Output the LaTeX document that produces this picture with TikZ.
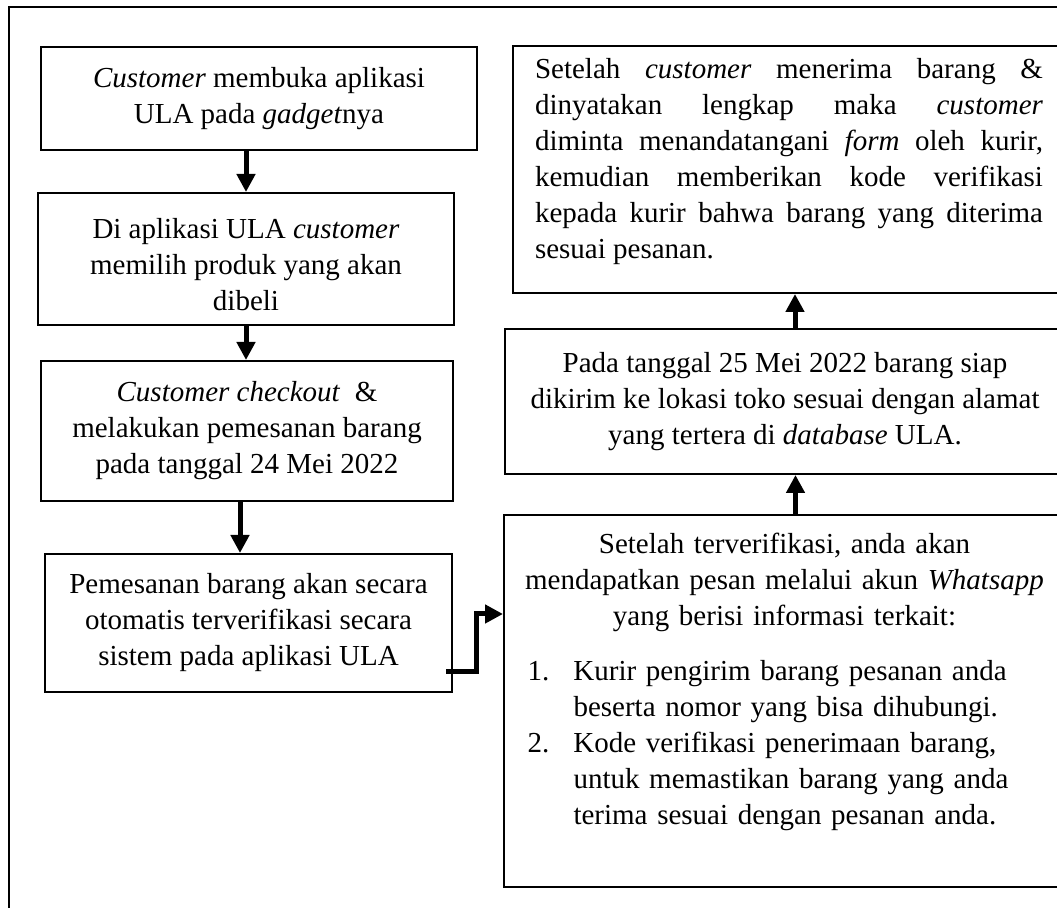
\documentclass[tikz,border=0pt]{standalone}
\usepackage{fontspec}
\setmainfont{Liberation Serif}
\usetikzlibrary{arrows.meta}

\begin{document}
\begin{tikzpicture}[
x = 0.5pt, y = -0.5pt,
box/.style={rectangle, draw=black, line width=1pt, inner sep=0pt, align=center, font=\fontsize{14.5}{18}\selectfont},
flow/.style={-{Triangle[length=9pt,width=9pt]}, line width=2.5pt},
frame/.style={draw=black, line width=1pt}]

\useasboundingbox (0,0) rectangle (1057,908);
\draw[frame] (9,960) |- (1100,7);

\node[box, minimum width=218pt, minimum height=51.5pt] (1) at (259,98.5) {\textit{Customer} membuka aplikasi\\ ULA pada \textit{gadget}nya};
\node[box, minimum width=208pt, minimum height=66pt] (2) at (246,259) {\rule{0pt}{16pt}Di aplikasi ULA \textit{customer}\\ memilih produk yang akan\\ dibeli};
\node[box, minimum width=206pt, minimum height=70pt] (3) at (247,431) {\textit{Customer checkout}~ \&\\ melakukan pemesanan barang\\ pada tanggal 24 Mei 2022};
\node[box, minimum width=203.5pt, minimum height=69pt] (4) at (248.5,623) {Pemesanan barang akan secara\\ otomatis terverifikasi secara\\ sistem pada aplikasi ULA};

\node[box, minimum width=280.5pt, minimum height=186pt, text width=274pt, align=left] (5) at (784.5,701) {{\centering Setelah terverifikasi, anda akan\\ mendapatkan pesan melalui akun \textit{Whatsapp}\\ yang berisi informasi terkait:\par}\vspace{11pt}
\hspace*{8.5pt}\begin{tabular}{@{}p{23pt}@{}l@{}}
1. & Kurir pengirim barang pesanan anda\\
 & beserta nomor yang bisa dihubungi.\\
2. & Kode verifikasi penerimaan barang,\\
 & untuk memastikan barang yang anda\\
 & terima sesuai dengan pesanan anda.
\end{tabular}\par\vspace{17pt}\nointerlineskip\null};
\node[box, minimum width=280pt, minimum height=72.5pt] (6) at (785,401.5) {Pada tanggal 25 Mei 2022 barang siap\\ dikirim ke lokasi toko sesuai dengan alamat\\ yang tertera di \textit{database} ULA.};
\node[box, minimum width=276pt, minimum height=123.5pt, text width=254pt, align=justify] (7) at (789,169.5) {Setelah \textit{customer} menerima barang \&\linebreak
dinyatakan lengkap maka \textit{customer}\linebreak
diminta menandatangani \textit{form} oleh kurir,\linebreak
kemudian memberikan kode verifikasi\linebreak
kepada kurir bahwa barang yang diterima\linebreak
sesuai pesanan.\par\vspace{8pt}\nointerlineskip\null};

\draw[flow] (2.north |- 1.south) -- (2.north);
\draw[flow] (2.south) -- (2.south |- 3.north);
\draw[flow] ([xshift=-3.5pt]3.south) -- ([xshift=-3.5pt]3.south |- 4.north);
\draw[flow] ([shift={(-3.5pt,-24.5pt)}]4.east) -- ++(15pt,0) |- ([yshift=43.5pt]5.west);

\draw[flow] ([xshift=5.5pt]5.north) -- ([xshift=5.5pt]5.north |- 6.south);
\draw[flow] ([xshift=5pt]6.north) -- ([xshift=5pt]6.north |- 7.south);
\end{tikzpicture}
\end{document}
